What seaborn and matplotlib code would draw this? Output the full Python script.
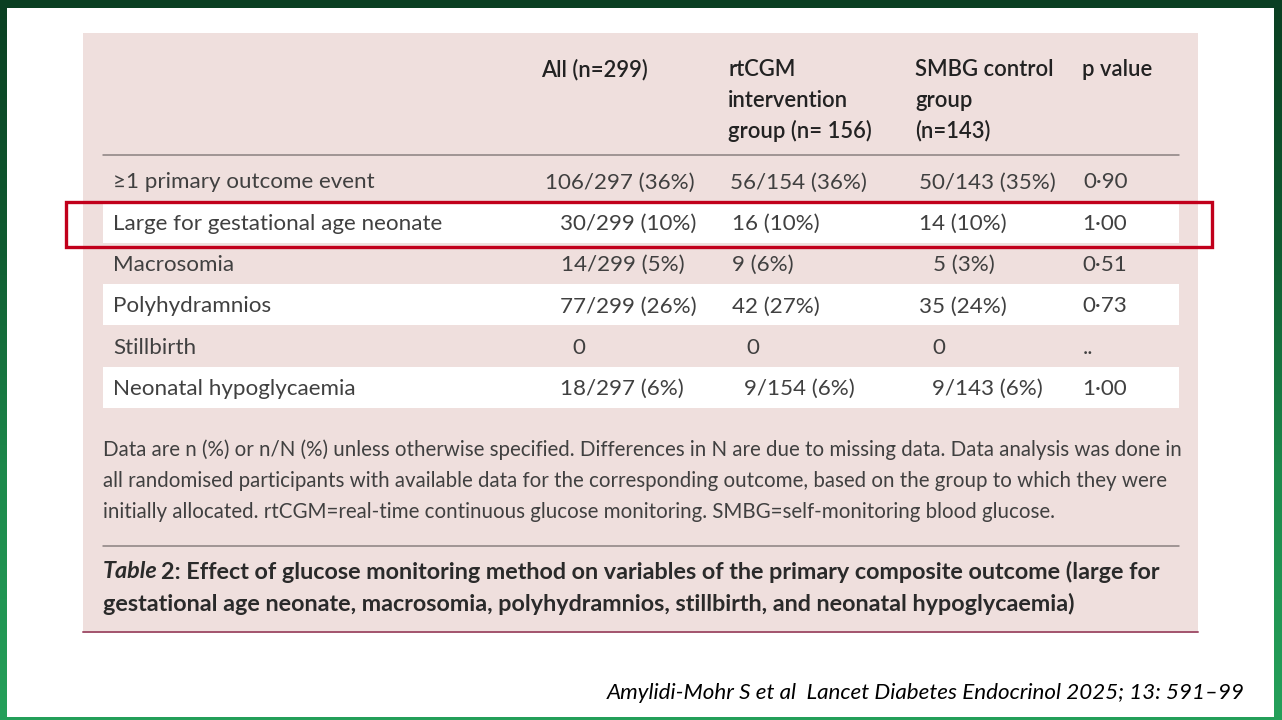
import numpy as np
import matplotlib
matplotlib.use("Agg")
import matplotlib.pyplot as plt
import seaborn as sns
from matplotlib.patches import Rectangle
from matplotlib.colors import LinearSegmentedColormap

sns.set_theme(style="white")
plt.rcParams['font.family'] = ['Lato', 'DejaVu Sans']

# table content
outcomes = ["≥1 primary outcome event", "Large for gestational age neonate", "Macrosomia",
            "Polyhydramnios", "Stillbirth", "Neonatal hypoglycaemia"]
all_vals = ["106/297 (36%)", "30/299 (10%)", "14/299 (5%)", "77/299 (26%)", "0", "18/297 (6%)"]
rtcgm_vals = ["56/154 (36%)", "16 (10%)", "9 (6%)", "42 (27%)", "0", "9/154 (6%)"]
smbg_vals = ["50/143 (35%)", "14 (10%)", "5 (3%)", "35 (24%)", "0", "9/143 (6%)"]
p_vals = ["0·90", "1·00", "0·51", "0·73", "..", "1·00"]
headers = [["All (n=299)"], ["rtCGM", "intervention", "group (n= 156)"],
           ["SMBG control", "group", "(n=143)"], ["p value"]]
footnote = ["Data are n (%) or n/N (%) unless otherwise specified. Differences in N are due to missing data. Data analysis was done in",
            "all randomised participants with available data for the corresponding outcome, based on the group to which they were",
            "initially allocated. rtCGM=real-time continuous glucose monitoring. SMBG=self-monitoring blood glucose."]
caption_lead = "Table"
caption = ["2: Effect of glucose monitoring method on variables of the primary composite outcome (large for",
           "gestational age neonate, macrosomia, polyhydramnios, stillbirth, and neonatal hypoglycaemia)"]
citation = "Amylidi-Mohr S et al  Lancet Diabetes Endocrinol 2025; 13: 591–99"
highlight_row = 1

# layout (pixels)
col_x = [560, 732, 919, 1082]
head_x = [541, 728, 915, 1082]
cell_shift = [[-15, 0, 1, 0, 12, 0],
              [-2, 0, 0, 0, 14, 12],
              [0, 0, 14, 0, 13, 13],
              [1, 0, 0, 0, 1, 0]]
row_y = 181 + 41.3 * np.arange(len(outcomes))
pink = "#efdfdd"
body_col = "#404040"
head_col = "#222222"
fs_body = 16.1
fs_cap = 16.8

fig = plt.figure(figsize=(12.82, 7.2), dpi=100)
ax = fig.add_axes([0, 0, 1, 1])
ax.set_xlim(0, 1282)
ax.set_ylim(720, 0)
ax.axis("off")

# green frame
grad = np.linspace(0, 1, 256).reshape(-1, 1)
cmap = LinearSegmentedColormap.from_list("g", ["#0a3f22", "#0f5a30", "#1d8a4c", "#25a05a"])
ax.imshow(grad, extent=[0, 1282, 720, 0], cmap=cmap, aspect="auto", zorder=0)
ax.add_patch(Rectangle((7, 8), 1267, 709, facecolor="white", edgecolor="none", zorder=1))

# table panel
ax.add_patch(Rectangle((83, 33), 1115, 599, facecolor=pink, edgecolor="none", zorder=2))
for i, y in enumerate(row_y):
    if i % 2 == 1:
        ax.add_patch(Rectangle((103, y - 20.5), 1076, 41, facecolor="white",
                               edgecolor="none", zorder=3))
ax.plot([103, 1179], [155, 155], color="#8a8080", lw=1.1, zorder=4)
ax.plot([103, 1179], [546, 546], color="#8a8080", lw=1.1, zorder=4)
ax.plot([83, 1198], [632, 632], color="#a2536c", lw=1.4, zorder=4)

# header
for hx, lines in zip(head_x, headers):
    for k, line in enumerate(lines):
        ax.text(hx, 70 + 30.5 * k, line, fontsize=15.8, color=head_col,
                fontweight="semibold", va="center", ha="left", zorder=5)

# body
for i, (y, name) in enumerate(zip(row_y, outcomes)):
    ax.text(113, y + 1.5, name, fontsize=fs_body, color=body_col, va="center", ha="left", zorder=5)
for c, vals in enumerate([all_vals, rtcgm_vals, smbg_vals, p_vals]):
    for i, v in enumerate(vals):
        ax.text(col_x[c] + cell_shift[c][i], row_y[i] + 1.5, v, fontsize=fs_body, color=body_col,
                va="center", ha="left", zorder=5)

# highlight box
hy = row_y[highlight_row]
ax.add_patch(Rectangle((66, hy - 20), 1146, 45, facecolor="none", edgecolor="#c1001b",
                       lw=2.4, zorder=6))

# footnote
for k, line in enumerate(footnote):
    ax.text(103, 450 + 31 * k, line, fontsize=14.8, color=body_col, va="center",
            ha="left", zorder=5)

# caption
t = ax.text(103, 572, caption_lead, fontsize=fs_cap, color="#2a2a2a", fontweight="bold",
            fontstyle="italic", va="center", ha="left", zorder=5)
fig.canvas.draw()
bb = t.get_window_extent()
x_after = bb.x1 * 1282 / fig.bbox.width
ax.text(x_after + 3, 572, caption[0], fontsize=fs_cap, color="#2a2a2a", fontweight="bold",
        va="center", ha="left", zorder=5)
ax.text(103, 604, caption[1], fontsize=fs_cap, color="#2a2a2a", fontweight="bold",
        va="center", ha="left", zorder=5)

# citation
ax.text(1245, 693, citation, fontsize=16.1, color="black", fontstyle="italic",
        va="center", ha="right", zorder=5)

fig.savefig("out.png", dpi=100)
